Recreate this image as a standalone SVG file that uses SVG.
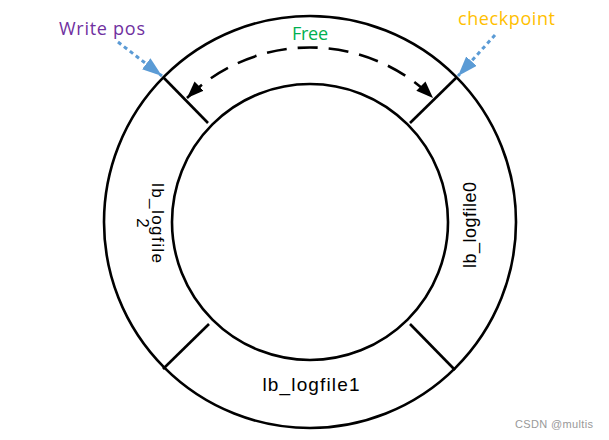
<svg xmlns="http://www.w3.org/2000/svg" width="609" height="440" viewBox="0 0 609 440">
<style>
.ring{fill:none;stroke:#000;stroke-width:2.6}
.div{stroke:#000;stroke-width:2.6}
.lbl{font-family:"Liberation Sans",Arial,sans-serif;fill:#000}
.note{font-family:"Open Sans","Liberation Sans",sans-serif}
.ptr{fill:none;stroke:#5B9BD5;stroke-width:3;stroke-dasharray:4 3.5}
</style>
<defs>
<marker id="blueHead" viewBox="0 0 20 14" refX="20" refY="7" markerWidth="20" markerHeight="14" markerUnits="userSpaceOnUse" orient="auto">
<path d="M0,0 L20,7 L0,14 Z" fill="#5B9BD5"/>
</marker>
<marker id="blackHead" viewBox="0 0 17 13" refX="17" refY="6.5" markerWidth="17" markerHeight="13" markerUnits="userSpaceOnUse" orient="auto-start-reverse">
<path d="M0,0 L17,6.5 L0,13 Z" fill="#000"/>
</marker>
</defs>
<rect width="609" height="440" fill="#fff"/>
<g id="ring">
<circle class="ring" cx="310" cy="222" r="206"/>
<circle class="ring" cx="310" cy="222" r="138"/>
</g>
<g id="connectors">
<line class="div" x1="163" y1="77" x2="208" y2="123"/>
<line class="div" x1="457" y1="77" x2="410" y2="123"/>
<line class="div" x1="163" y1="369" x2="209" y2="324"/>
<line class="div" x1="455" y1="370" x2="410" y2="324"/>
<path d="M187,98 A175,175 0 0 1 433,98" fill="none" stroke="#000" stroke-width="2.6" stroke-dasharray="20 11" marker-start="url(#blackHead)" marker-end="url(#blackHead)"/>
<line class="ptr" x1="118" y1="42" x2="162" y2="76" marker-end="url(#blueHead)"/>
<line class="ptr" x1="495" y1="35" x2="458" y2="76" marker-end="url(#blueHead)"/>
</g>
<g id="seg-lb_logfile0">
<text class="lbl" font-size="18" text-anchor="middle" textLength="86" transform="translate(476,225) rotate(-90)">lb_logfile0</text>
</g>
<g id="seg-lb_logfile1">
<text class="lbl" font-size="19" x="311" y="391" text-anchor="middle" textLength="97">lb_logfile1</text>
</g>
<g id="seg-lb_logfile2">
<text class="lbl" font-size="17" text-anchor="middle" transform="translate(152,223) rotate(90)"><tspan x="0" y="0" textLength="80">lb_logfile</tspan><tspan x="0" y="15">2</tspan></text>
</g>
<g id="write-pos">
<text class="note" x="59" y="35" font-size="18" font-weight="500" fill="#7030A0" textLength="86">Write pos</text>
</g>
<g id="checkpoint">
<text class="note" x="458" y="25" font-size="18" font-weight="500" fill="#FFC000" textLength="97">checkpoint</text>
</g>
<g id="free">
<text class="note" x="292" y="40" font-size="18" font-weight="500" fill="#00B050" textLength="36">Free</text>
</g>
<text x="515" y="428" font-family="Liberation Sans,sans-serif" font-size="11" fill="#999" textLength="78">CSDN @multis</text>
</svg>
